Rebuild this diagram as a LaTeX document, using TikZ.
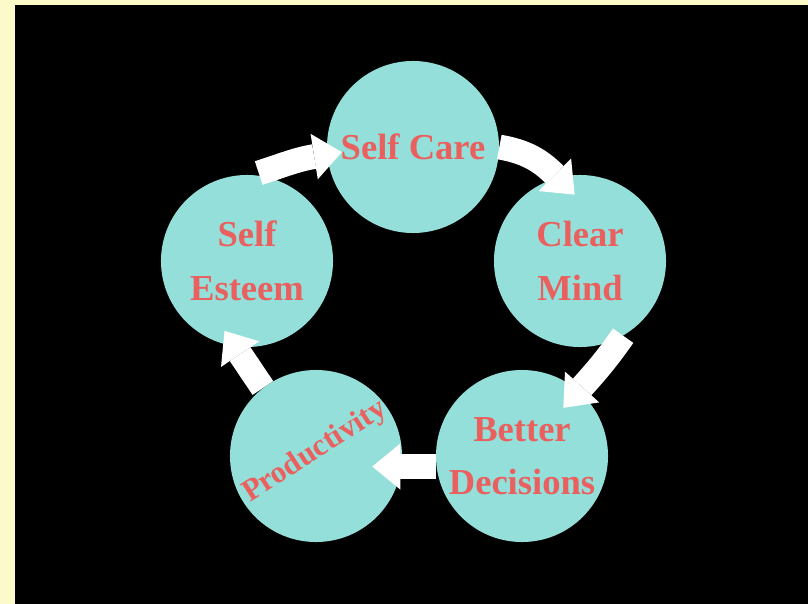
\documentclass[tikz,border=0pt]{standalone}
\usepackage{fontspec}
\setmainfont{Liberation Serif}
\usepackage{xcolor}
\usepackage{tikz}
\usetikzlibrary{
    arrows.meta
}
\definecolor{creamy}{RGB}{252,250,200}
\definecolor{bubblecol}{RGB}{148,223,217}
\definecolor{wordred}{RGB}{233,96,94}

\begin{document}
\begin{tikzpicture}[x=0.025cm,y=0.025cm]
    \tikzstyle{bubble}=[circle, fill=bubblecol, minimum size=4.3cm, inner sep=0pt, text=wordred, align=center, font=\bfseries\fontsize{26}{38}\selectfont]
    \tikzstyle{link}=[draw=white, line width=0.62cm, -{Triangle[length=0.7cm, width=1.15cm, line width=0pt]}]
    \fill[creamy] (0,0) rectangle (808,-604);
    \fill[black] (15,-5) rectangle (808,-604);
    \node[bubble] (sc) at (413,-147) {Self Care};
    \node[bubble] (se) at (247,-261) {Self\\Esteem};
    \node[bubble] (cm) at (580,-261) {Clear\\Mind};
    \node[bubble] (bd) at (522,-456) {Better\\Decisions};
    \node[bubble] (p) at (316,-456) {};
    \node[rotate=33, text=wordred, font=\bfseries\fontsize{22}{26}\selectfont] (prod) at (315,-452) {Productivity};
    \path (se.86) edge[link, out=18, in=189, shorten <=0.15cm, shorten >=-0.375cm] (sc.185);
    \path (sc.0) edge[link, out=-10, in=135, shorten >=-0.6cm] (cm.105);
    \path (cm.-60) edge[link, out=-125, in=48, shorten >=-0.57cm] (bd.49);
    \path (bd.187) edge[link, shorten >=-0.735cm] (p.-7);
    \path (p.128) edge[link, shorten >=-0.47cm] (se.262);
\end{tikzpicture}
\end{document}
